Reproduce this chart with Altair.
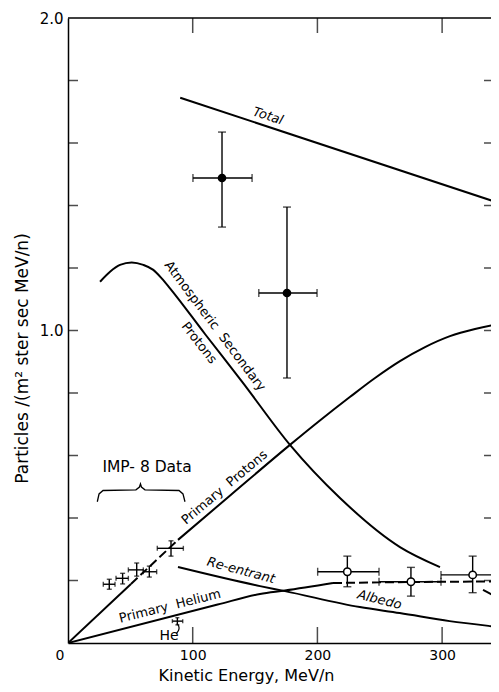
import altair as alt
import pandas as pd

W, H = 423, 625
XMAX = 339.2
FONT = "DejaVu Sans"

# ---------------- curves ----------------
total_x = [90.0, 350.0]
total_y = [1.745, 1.402]

atmos_x = [25.7, 33.7, 41.7, 51.1, 60.4, 68.4, 75.1, 81.8, 110.0, 140.0, 178.0, 218.1, 266.2, 298.3]
atmos_y = [1.156, 1.188, 1.210, 1.218, 1.210, 1.194, 1.167, 1.135, 0.988, 0.834, 0.634, 0.464, 0.307, 0.243]
atmos_tail_x = [332.8, 345.6, 350.0]
atmos_tail_y = [0.170, 0.144, 0.136]

protons_lo_x = [0.0, 50.5]
protons_lo_y = [0.0, 0.189]
protons_dash_x = [50.5, 88.2]
protons_dash_y = [0.189, 0.330]
protons_hi_x = [88.2, 130.0, 178.0, 202.0, 226.0, 246.2, 266.2, 286.3, 306.3, 326.4, 345.6, 350.0]
protons_hi_y = [0.330, 0.472, 0.634, 0.712, 0.787, 0.848, 0.902, 0.947, 0.982, 1.005, 1.021, 1.024]

helium_x = [0.0, 120.0, 154.0, 174.0, 212.5]
helium_y = [0.0, 0.123, 0.157, 0.168, 0.192]
helium_dash_x = [212.5, 250.0, 300.0, 350.0]
helium_dash_y = [0.192, 0.194, 0.196, 0.197]

reentrant_x = [88.2, 154.0, 174.0, 234.0, 266.0, 306.0, 345.6, 350.0]
reentrant_y = [0.243, 0.182, 0.166, 0.115, 0.096, 0.070, 0.051, 0.049]

# ---------------- data points ----------------
imp_x = [33.1, 43.8, 55.1, 65.2, 82.6]
imp_y = [0.188, 0.207, 0.234, 0.228, 0.303]
imp_xlo = [28.3, 38.5, 48.4, 60.4, 71.6]
imp_xhi = [37.7, 48.4, 60.4, 71.1, 92.5]
imp_ylo = [0.172, 0.189, 0.214, 0.211, 0.278]
imp_yhi = [0.204, 0.223, 0.256, 0.246, 0.327]

he_x = [87.7]
he_y = [0.070]
he_xlo = [83.7]
he_xhi = [92.0]
he_ylo = [0.058]
he_yhi = [0.081]

filled_x = [123.5, 175.6]
filled_y = [1.488, 1.120]
filled_xlo = [100.2, 153.0]
filled_xhi = [147.6, 199.7]
filled_ylo = [1.331, 0.848]
filled_yhi = [1.635, 1.395]

open_x = [224.0, 275.0, 324.5]
open_y = [0.228, 0.196, 0.218]
open_xlo = [200.2, 249.4, 299.1]
open_xhi = [249.4, 299.1, 350.0]
open_ylo = [0.180, 0.150, 0.161]
open_yhi = [0.278, 0.242, 0.278]

# ---------------- annotations ----------------
brace_x = [23.5, 24.9, 28.1, 54.5, 57.3, 58.1, 58.9, 61.7, 89.0, 92.2, 93.8]
brace_y = [0.452, 0.477, 0.488, 0.490, 0.499, 0.509, 0.499, 0.490, 0.488, 0.477, 0.452]
arrow_x = [86.8, 89.3, 89.0, 87.2]
arrow_y = [0.030, 0.042, 0.056, 0.062]

label_text = ["Atmospheric\u00a0\u00a0Secondary", "Protons", "Primary\u00a0\u00a0Protons",
              "Primary\u00a0\u00a0Helium", "IMP-\u00a08\u00a0Data", "He"]
label_x = [117.9, 105.1, 125.5, 81.8, 63.4, 81.0]
label_y = [1.014, 0.960, 0.498, 0.118, 0.563, 0.024]
label_angle = [53, 52, 320, 346, 0, 0]
label_size = [13, 13, 13, 13, 15.5, 14]

ital_text = ["Total", "Re-entrant", "Albedo"]
ital_x = [160.4, 138.7, 249.8]
ital_y = [1.686, 0.232, 0.138]
ital_angle = [18, 15, 14]

y_ticks = [0.2, 0.4, 0.6, 0.8, 1.0, 1.2, 1.4, 1.6, 1.8]
y_labels = [1.0, 2.0]
x_ticks = [100, 200, 300]
x_labels = [0, 100, 200, 300]

# ---------------- tables ----------------
def seg_frame(pairs):
    rows = []
    for name, xs_, ys_ in pairs:
        for a, b in zip(xs_, ys_):
            rows.append({"seg": name, "x": a, "y": b})
    return pd.DataFrame(rows)

solid = seg_frame([("total", total_x, total_y), ("atmos", atmos_x, atmos_y),
                   ("atmos_tail", atmos_tail_x, atmos_tail_y),
                   ("p_lo", protons_lo_x, protons_lo_y), ("p_hi", protons_hi_x, protons_hi_y),
                   ("he", helium_x, helium_y), ("re", reentrant_x, reentrant_y)])
dashed = seg_frame([("p_dash", protons_dash_x, protons_dash_y),
                    ("he_dash", helium_dash_x, helium_dash_y)])

def pts(kind, xs_, ys_, xlo, xhi, ylo, yhi, cap):
    return [{"kind": kind, "x": a, "y": b, "xlo": c, "xhi": d, "ylo": e, "yhi": f, "cap": cap}
            for a, b, c, d, e, f in zip(xs_, ys_, xlo, xhi, ylo, yhi)]

points = pd.DataFrame(
    pts("imp", imp_x, imp_y, imp_xlo, imp_xhi, imp_ylo, imp_yhi, 5)
    + pts("he", he_x, he_y, he_xlo, he_xhi, he_ylo, he_yhi, 4)
    + pts("filled", filled_x, filled_y, filled_xlo, filled_xhi, filled_ylo, filled_yhi, 8)
    + pts("open", open_x, open_y, open_xlo, open_xhi, open_ylo, open_yhi, 8)
)

brace = pd.DataFrame({"x": brace_x, "y": brace_y, "o": list(range(len(brace_x)))})
arrow = pd.DataFrame({"x": arrow_x, "y": arrow_y, "o": list(range(len(arrow_x)))})
labels = pd.DataFrame({"t": label_text, "x": label_x, "y": label_y, "a": label_angle, "s": label_size})
ital = pd.DataFrame({"t": ital_text, "x": ital_x, "y": ital_y, "a": ital_angle})

# frame tick marks (inward), positioned by tick values
tick_left = pd.DataFrame({"x": [0.0] * len(y_ticks), "y": y_ticks})
tick_right = pd.DataFrame({"x": [XMAX] * len(y_ticks), "y": y_ticks})
tick_bottom = pd.DataFrame({"x": x_ticks, "y": [0.0] * len(x_ticks)})
tick_top = pd.DataFrame({"x": x_ticks, "y": [2.0] * len(x_ticks)})
top_line = pd.DataFrame({"y": [max(y_labels)]})

xs = alt.Scale(domain=[0, XMAX], nice=False, zero=False)
ys = alt.Scale(domain=[0, 2], nice=False, zero=False)

axis_y = alt.Axis(values=y_labels, format=".1f", ticks=False, domain=True, domainColor="black",
                  domainWidth=1.5, grid=False,
                  labelFont=FONT, labelFontSize=15, labelColor="black", labelPadding=5,
                  title="Particles /(m\u00b2 ster sec MeV/n)", titleFont=FONT, titleFontSize=17,
                  titleFontWeight="normal", titleColor="black", titleAngle=270,
                  titleX=-46, titleY=340, titleAlign="center", titleBaseline="middle")
axis_x = alt.Axis(values=x_labels, ticks=False, domain=True, domainColor="black", domainWidth=1.5,
                  grid=False, labelFlush=False,
                  labelFont=FONT, labelFontSize=14, labelColor="black", labelPadding=5,
                  labelAlign={"condition": {"test": "datum.value === 0", "value": "right"}, "value": "center"},
                  labelOffset={"condition": {"test": "datum.value === 0", "value": -4}, "value": 0},
                  title="Kinetic Energy, MeV/n", titleFont=FONT, titleFontSize=16,
                  titleFontWeight="normal", titleColor="black",
                  titleX=178, titleY=37, titleAlign="center", titleBaseline="alphabetic")

def X(f):
    return alt.X(f, scale=xs, axis=None)

def Y(f):
    return alt.Y(f, scale=ys, axis=None)

base_solid = alt.Chart(solid).mark_line(color="black", strokeWidth=2, interpolate="monotone", clip=True).encode(
    x=alt.X("x:Q", scale=xs, axis=axis_x),
    y=alt.Y("y:Q", scale=ys, axis=axis_y),
    detail="seg:N",
)
base_dash = alt.Chart(dashed).mark_line(color="black", strokeWidth=2, strokeDash=[9, 4], clip=True).encode(
    x=X("x:Q"), y=Y("y:Q"), detail="seg:N")

top_rule = alt.Chart(top_line).mark_rule(color="black", strokeWidth=1.5).encode(y=Y("y:Q"))

def tick_layer(df, orient, size):
    return alt.Chart(df).mark_tick(color="black", orient=orient, size=size, thickness=1.5, clip=True).encode(
        x=X("x:Q"), y=Y("y:Q"))

t_left = tick_layer(tick_left, "horizontal", 20)
t_right = tick_layer(tick_right, "horizontal", 14)
t_bottom = tick_layer(tick_bottom, "vertical", 32)
t_top = tick_layer(tick_top, "vertical", 30)

brace_l = alt.Chart(brace).mark_line(color="black", strokeWidth=1.3, interpolate="linear").encode(
    x=X("x:Q"), y=Y("y:Q"), order="o:Q")
arrow_l = alt.Chart(arrow).mark_line(color="black", strokeWidth=1.2, interpolate="basis").encode(
    x=X("x:Q"), y=Y("y:Q"), order="o:Q")

hbar = alt.Chart(points).mark_rule(color="black", strokeWidth=1.4, clip=True).encode(
    x=X("xlo:Q"), x2="xhi:Q", y=Y("y:Q"))
vbar = alt.Chart(points).mark_rule(color="black", strokeWidth=1.4, clip=True).encode(
    x=X("x:Q"), y=Y("ylo:Q"), y2="yhi:Q")

def cap_layer(xf, yf, orient):
    return alt.Chart(points).mark_tick(color="black", orient=orient, thickness=1.4, clip=True).encode(
        x=X(xf), y=Y(yf), size=alt.Size("cap:Q", scale=None))

cap_xlo = cap_layer("xlo:Q", "y:Q", "vertical")
cap_xhi = cap_layer("xhi:Q", "y:Q", "vertical")
cap_ylo = cap_layer("x:Q", "ylo:Q", "horizontal")
cap_yhi = cap_layer("x:Q", "yhi:Q", "horizontal")

filled_pts = alt.Chart(points).transform_filter("datum.kind == 'filled'").mark_point(
    shape="circle", filled=True, color="black", size=75, opacity=1).encode(x=X("x:Q"), y=Y("y:Q"))
open_pts = alt.Chart(points).transform_filter("datum.kind == 'open'").mark_point(
    shape="circle", filled=True, fill="white", stroke="black", strokeWidth=1.5, size=55, opacity=1).encode(
    x=X("x:Q"), y=Y("y:Q"))

text_n = alt.Chart(labels).mark_text(font=FONT, color="black", align="center", baseline="middle").encode(
    x=X("x:Q"), y=Y("y:Q"), text="t:N", angle=alt.Angle("a:Q", scale=None),
    size=alt.Size("s:Q", scale=None))
text_i = alt.Chart(ital).mark_text(font=FONT, fontSize=13, fontStyle="italic", color="black",
                                   align="center", baseline="middle").encode(
    x=X("x:Q"), y=Y("y:Q"), text="t:N", angle=alt.Angle("a:Q", scale=None))

chart = alt.layer(
    base_solid, base_dash, top_rule, t_left, t_right, t_bottom, t_top, brace_l, arrow_l,
    hbar, vbar, cap_xlo, cap_xhi, cap_ylo, cap_yhi, filled_pts, open_pts, text_n, text_i,
).resolve_axis(x="independent", y="independent").properties(
    width=W, height=H,
    autosize=alt.AutoSizeParams(type="none"),
    padding={"left": 60, "top": 10, "right": 0, "bottom": 41},
    background="white",
).configure_view(stroke=None)

chart.save("out.html", embed_options={"renderer": "svg", "actions": False})
